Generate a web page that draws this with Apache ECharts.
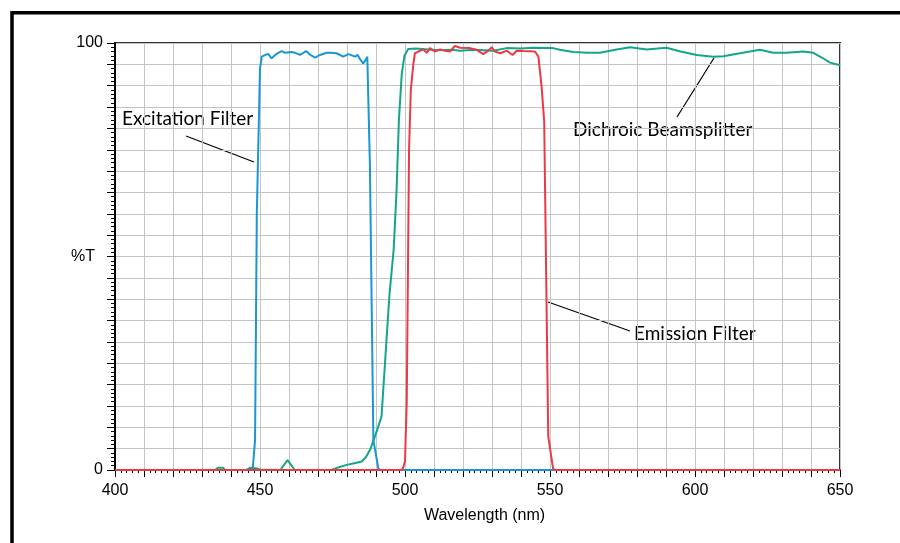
<!DOCTYPE html>
<html>
<head>
<meta charset="utf-8">
<script src="https://cdn.jsdelivr.net/npm/echarts@6/dist/echarts.min.js"></script>
<style>html,body{margin:0;padding:0;background:#fff}#c{width:900px;height:543px}</style>
</head>
<body>
<div id="c"></div>
<script>
// Wavelength (nm), %T
const excitation = [
  [400,0],[445,0],[447.5,0.4],[448.3,7],[448.9,60],[450.0,94],[450.6,96.8],[452.1,97.3],[452.9,97.4],
  [454.0,96.4],[455.2,97.2],[456.3,97.7],[457.5,98.1],[458.6,97.7],[460.9,97.9],[462.1,97.7],
  [463.8,97.2],[464.7,97.6],[465.9,98.1],[467.2,97.3],[469.0,96.6],[470.7,97.2],[473.0,97.7],
  [474.1,97.7],[476.4,97.6],[478.7,96.8],[480.5,97.4],[482.8,96.8],[483.7,97.2],[484.3,96.4],
  [485.6,95.2],[486.2,95.8],[487.0,96.8],[487.9,71.4],[489.1,7],[490.8,0.4],[491.5,0],[650,0]
];
const dichroic = [
  [400,0],[434.5,0],[435.5,0.5],[437.3,0.5],[438,0],[445.5,0],[446.5,0.5],[448.5,0.4],[450,0.1],
  [457,0],[459.5,2.3],[462,0],[474.7,0],[477,0.6],[479.9,1.2],[482.5,1.6],[485.1,2.0],[486.5,3.0],
  [488,4.8],[489.7,8.0],[491.9,12.5],[493.1,25],[494.6,40.7],[496.1,51.7],[497.1,65.6],[497.9,82],
  [498.9,92.9],[499.8,97.0],[501.1,98.6],[503.7,98.7],[508,98.5],[512,98.3],[516,98.4],[519,98.2],
  [524,98.4],[530.4,98.2],[535,98.8],[540,98.7],[544.1,98.9],[551,98.8],[553.4,98.4],[558,97.9],
  [563,97.7],[567.2,97.7],[570.7,98.2],[574,98.6],[577.6,99.0],[583.4,98.5],[587,98.7],[590.2,98.9],
  [595,98.0],[600.6,97.2],[606.3,96.8],[609.8,96.9],[615.5,97.6],[622.4,98.4],[627,97.7],[631.6,97.7],
  [637.4,98.0],[640.8,97.7],[643.7,96.6],[646.6,95.4],[650,94.8]
];
const emission = [
  [400,0],[498.5,0],[499.2,0.2],[500,2],[500.6,16],[501.4,75],[502.0,89],[502.9,95.2],[503.4,97.6],
  [504.6,98.0],[506.3,98.5],[507.5,97.7],[508.6,98.8],[510.3,98.0],[512.1,98.5],[513.8,98.2],
  [515.5,98.0],[517.2,99.3],[519,98.9],[522.4,98.8],[524.7,98.4],[527,97.4],[528.7,98.2],[529.9,99.0],
  [531,98.0],[532.8,97.6],[535.1,98.2],[537.1,97.2],[538.5,98.2],[540.8,98.1],[544.8,98.0],[546,96.8],
  [547.1,89.8],[548,81.6],[549.4,7.8],[551.1,0.2],[552,0],[650,0]
];
const xLabels = [400,450,500,550,600,650];
const yLabels = [0,100];
const annotations = ['Excitation Filter','Dichroic Beamsplitter','Emission Filter'];

const chart = echarts.init(document.getElementById('c'));
const annFont = '19px Lato';
chart.setOption({
  animation:false,
  backgroundColor:'#fff',
  grid:{left:115,right:60,top:43,bottom:73,show:true,borderColor:'#333',borderWidth:2,backgroundColor:'transparent'},
  xAxis:{
    type:'value',min:400,max:650,interval:10,
    name:'Wavelength (nm)',nameLocation:'middle',nameGap:38,nameMoveOverlap:false,
    nameTextStyle:{fontFamily:'Liberation Sans',fontSize:16,color:'#000',padding:[0,0,0,14]},
    axisLine:{lineStyle:{color:'#000',width:1.5}},
    axisTick:{length:7,lineStyle:{color:'#000',width:1}},
    minorTick:{show:true,splitNumber:5,length:3,lineStyle:{color:'#000',width:1}},
    axisLabel:{margin:13,fontFamily:'Liberation Sans',fontSize:16,color:'#000',
      formatter:v=>xLabels.includes(v)?String(v):''},
    splitLine:{show:true,lineStyle:{color:'#c4c4c4',width:1}}
  },
  yAxis:{
    type:'value',min:0,max:100,interval:5,
    name:'%T',nameLocation:'middle',nameGap:20,nameRotate:0,nameMoveOverlap:false,
    nameTextStyle:{fontFamily:'Liberation Sans',fontSize:16,color:'#000'},
    axisLine:{show:true,lineStyle:{color:'#000',width:2}},
    axisTick:{show:true,length:8,lineStyle:{color:'#000',width:1}},
    minorTick:{show:true,splitNumber:5,length:4,lineStyle:{color:'#000',width:1}},
    axisLabel:{margin:12,fontFamily:'Liberation Sans',fontSize:16,color:'#000',
      formatter:v=>yLabels.includes(v)?String(v):''},
    splitLine:{show:true,lineStyle:{color:'#c4c4c4',width:1}}
  },
  series:[
    {name:annotations[1],type:'line',data:dichroic,showSymbol:false,lineStyle:{color:'#13a68a',width:2},z:2},
    {name:annotations[0],type:'line',data:excitation,showSymbol:false,lineStyle:{color:'#1a96d4',width:2},z:3},
    {name:annotations[2],type:'line',data:emission,showSymbol:false,lineStyle:{color:'#ec3a44',width:2},z:4}
  ],
  graphic:[
    {id:'frame',type:'rect',shape:{x:12,y:12.7,width:2000,height:2000},style:{fill:'none',stroke:'#000',lineWidth:3.5},silent:true},
    {id:'t1',type:'text',left:122,top:109,style:{text:annotations[0],font:annFont,fill:'#000'}},
    {id:'l1',type:'line',shape:{x1:186,y1:136,x2:254,y2:162},style:{stroke:'#000',lineWidth:1.2}},
    {id:'t2',type:'text',left:573,top:120,style:{text:annotations[1],font:annFont,fill:'#000'}},
    {id:'l2',type:'line',shape:{x1:677,y1:117,x2:714,y2:58},style:{stroke:'#000',lineWidth:1.2}},
    {id:'t3',type:'text',left:634,top:324,style:{text:annotations[2],font:annFont,fill:'#000'}},
    {id:'l3',type:'line',shape:{x1:548,y1:302,x2:630,y2:331},style:{stroke:'#000',lineWidth:1.2}}
  ]
});
</script>
</body>
</html>
